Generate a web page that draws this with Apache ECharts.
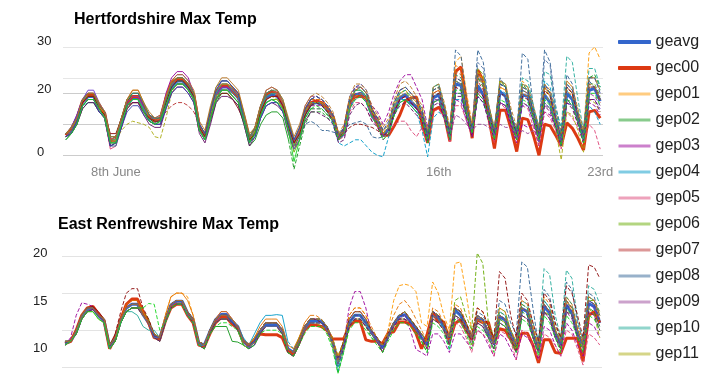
<!DOCTYPE html>
<html><head><meta charset="utf-8">
<script src="https://cdn.jsdelivr.net/npm/echarts@6/dist/echarts.min.js"></script>
<style>html,body{margin:0;padding:0;background:#fff}#c{width:714px;height:374px}</style>
</head><body><div id="c"></div>
<script>
// ---------- Hertfordshire (top) ----------
const hertGeavg=[6.5,8,11.5,17,19,19,15.5,13, 4.5,5,10.5,16.5,18.5,18.5,15,12, 11,11.5,17.5,22,24,24,22,19, 9,6,13,19.5,22,22,20.5,18.5, 12,5,7.5,14,18.5,19.5,19,16, 9.5,3.5,7,13.5,16.5,17,16.5,14.5, 12,5.5,7,16,19.5,20,18,13, 10,6.5,8.5,14.5,18.5,19.5,17,15.5, 13,5.5,18.5,19.5, 14,6.5,23,22.5, 14,8,22.5,19.5, 13,6.5,20.5,19, 12,6.5,19.5,19, 13,6.5,19.5,17, 11,4.5,20,18, 12,5.5,21,21.5, 17.5];
const hertGec00=[6.5,8.5,12,17.5,19.5,19.5,16,13.5, 4.5,5,11,17,19,19,15.5,12.5, 11,12,18.5,23.5,24.5,24.5,22.5,19.5, 9,6,13.5,20.5,22.5,22.5,21,19, 12.5,5,8,15,19.5,20.5,20,16.5, 9.5,3,7.5,14,17,17.5,17,15, 12.5,6,8,17,19,19,18.5,14.5, 10,6.5,6.5,9.5,13,17.5,18.5,18.8, 10,4,14.5,15.5, 13,4.5,27,28.5, 17,5.5,27.5,24, 12,2.2,14.5,14.5, 8.5,1.2,12,11.5, 6.5,0,10,9.5, 6.5,3,10.5,8.7, 5.5,1.7,14,14.5, 12];
const hertGep01=[6,8,12,17,20,20,16,13, 5,5,11,18,20,20,16,12, 11,12,19,23,25,25,23,20, 9,7,14,21,23,23,22,20, 13,6,9,15,20,21,20,17, 10,4,8,15,18,19,18,16, 13,6,9,18,22,22,20,15, 12,8,10,16,20,21,19,17, 14,6,20,21, 16,8,30,32, 20,10,27,24, 15,8,22,21, 13,7,24,22, 14,7,22,20, 12,5,24,22, 14,7,33,35, 31];
const hertGep02=[6,7,10,15,17,17,14,12, 3,4,11,17,20,20,16,12, 10,10,16,21,23,23,21,18, 8,5,11,17,20,20,18,16, 10,3,5,10,13,14,14,12, 5,-4.5,3,10,14,14,14,12, 11,5,8,17,21,21,19,14, 10,6,7,13,17,18,16,14, 12,4,17,18, 13,6,20,20, 13,7,25,22, 14,8,24,22, 13,7,21,20, 12,5,17,15, 10,3,18,17, 11,5,25,26, 22];
const hertGep03=[7,9,13,18,20,20,16,14, 5,6,11,17,19,19,15,12, 11,12,20,25,27,27,25,20, 10,7,14,20,22,22,21,19, 13,6,8,15,20,21,20,17, 10,4,7,13,16,16,16,14, 11,5,7,17,21,22,20,16, 14,10,14,20,24,26,26,22, 18,9,17,18, 12,5,18,17, 11,6,20,18, 12,5,17,16, 9,4,10,9, 10,3,14,13, 9,3,18,16, 10,4,17,16, 13];
const hertGep04=[7,9,12,18,19,19,15,13, 6,6,11,16,18,18,15,12, 12,12,17,22,24,24,22,19, 8,5,13,20,23,23,21,19, 12,5,8,15,19,20,19,16, 9,3,7,14,17,17,16,14, 10,4,3,4,5,5,3,1, 0,-0.5,6,14,18,18,16,14, 8,-0.5,12,14, 12,5,18,18, 13,8,19,17, 11,6,21,20, 13,8,23,22, 15,9,24,22, 14,7,21,18, 11,4,16,14, 10];
const hertGep05=[5,7,10,16,18,18,14,12, 2,3,9,15,17,17,14,11, 10,10,16,21,23,23,21,18, 8,5,12,18,21,21,19,17, 12,5,8,14,18,19,19,16, 10,5,8,15,18,18,17,15, 11,5,6,14,17,17,15,11, 10,6,7,10,11,11,8,6, 9,4,14,15, 12,4,16,16, 11,6,20,18, 10,4,17,15, 10,6,16,15, 9,3,14,12, 8,2,14,12, 9,4,10,8, 2];
const hertGep06=[6,8,11,17,19,19,15,13, 4,4,10,15,17,17,14,11, 10,11,16,21,23,23,21,18, 8,5,12,18,21,21,19,17, 11,4,7,13,17,18,18,15, 8,1,5,12,15,15,15,13, 12,6,8,17,21,21,19,14, 12,7,9,16,20,21,18,16, 14,7,21,22, 15,7,25,24, 14,8,28,26, 16,8,24,23, 13,7,23,21, 14,8,22,19, 12,6,22,20, 13,6,23,23, 19];
const hertGep07=[7,9,12,18,20,20,16,14, 5,6,11,17,19,19,16,13, 12,12,14,16,17,17,16,14, 10,7,13,19,21,21,20,18, 12,5,8,15,19,20,19,16, 10,4,8,14,17,18,17,15, 12,6,8,17,20,20,18,13, 11,6,8,14,18,19,17,15, 13,5,20,21, 14,6,24,23, 13,7,24,21, 12,6,23,22, 12,6,21,20, 13,6,22,20, 11,5,22,20, 12,6,23,22, 17];
const hertGep08=[7,8,11,17,19,19,15,13, 3,3,9,16,18,18,14,11, 10,10,16,21,23,23,21,18, 8,5,12,18,21,21,19,17, 11,4,7,13,17,18,17,14, 8,3,6,10,11,10,8,8, 7.5,7,8,10,10.5,11,10,6, 5.5,6,8,13,17,18,16,14, 12,5,19,20, 15,7,34,32, 18,8,34,30, 16,8,25,22, 13,7,33,31, 15,9,34,30, 16,8,26,23, 12,5,24,22, 18];
const hertGep09=[6,8,12,17,18,18,15,13, 4,5,11,17,19,19,15,12, 11,12,18,23,25,25,23,20, 9,6,13,19,22,22,21,19, 12,6,8,16,21,22,21,17, 10,4,8,16,19,19,18,16, 12,5,7,16,19,20,18,13, 11,7,9,15,19,20,18,16, 13,6,18,18, 12,6,13,12, 10,8,10,10, 9,7,10,9, 9,5,8,7, 8,6,16,15, 11,5,17,16, 12,6,20,19, 16];
const hertGep10=[5,7,10,16,17,17,14,12, 5,5,10,16,18,18,15,12, 11,11,17,22,24,24,22,19, 9,6,14,20,23,23,21,19, 12,5,8,15,19,20,20,17, 10,3,7,13,16,17,17,15, 12,6,8,17,21,21,19,14, 12,7,9,16,20,21,19,17, 14,7,22,23, 15,7,24,23, 14,9,26,24, 14,7,23,22, 13,8,25,24, 16,9,27,26, 15,9,32,30, 18,8,28,28, 22];
const hertGep11=[6,8,11,16,18,18,15,12, 4,5,8,10,11,10.5,10,9, 6,5.5,12,20,23,23,21,18, 9,6,13,19,21,21,20,18, 12,5,8,14,18,19,18,15, 9,3,7,14,17,17,17,14, 12,5,7,16,19,20,18,14, 12,7,9,15,19,20,18,16, 14,5,21,22, 14,7,24,23, 15,8,27,25, 13,5,24,22, 11,5,22,21, 12,4,20,17, 8,-1.5,14,13, 8,1,18,17, 14];
const hertGep12=[7,9,13,18,21,21,17,14, 5,6,12,18,20,20,16,13, 12,13,19,24,26,26,24,20, 10,7,15,21,24,24,22,20, 13,6,9,16,20,21,20,17, 11,5,8,15,18,19,18,16, 13,6,9,18,22,22,20,15, 11,6,8,14,18,19,17,15, 12,5,17,18, 13,6,20,20, 12,7,19,17, 12,6,17,16, 10,5,16,16, 11,4,17,15, 9,3,17,16, 11,4,18,18, 15];
const hertGep13=[7,8,12,17,19,19,16,13, 5,6,12,18,21,21,17,12, 11,12,19,24,25,25,23,20, 10,7,14,21,23,23,22,20, 13,6,9,16,20,21,20,17, 11,5,8,15,18,18,18,16, 13,6,9,18,21,22,20,15, 12,7,10,17,21,22,20,18, 15,7,20,21, 16,8,29,28, 17,9,25,23, 14,7,22,21, 13,7,20,19, 14,7,22,19, 11,5,21,19, 13,6,22,22, 18];
const hertGep14=[6,8,11,17,19,19,15,13, 7,7,12,16,17,17,14,12, 11,11,17,22,24,24,22,19, 9,6,12,18,20,20,18,15, 11,5,7,14,18,19,19,16, 9,4,7,13,16,17,16,14, 11,5,7,9,10,10,9.5,9, 8,6,8,14,18,19,17,15, 13,6,19,20, 14,7,22,21, 13,8,21,19, 13,7,20,19, 12,7,19,18, 13,7,21,19, 12,6,22,20, 12,6,22,22, 18];
const hertGep15=[6,7,10,15,17,17,14,12, 3,4,9,15,17,17,13,10, 9,9,15,20,22,22,20,17, 7,4,10,17,19,19,18,16, 10,3,6,12,16,17,16,14, 7,2,5,11,14,14,13,12, 10,4,5,13,16,17,15,11, 9,5,7,13,16,17,15,13, 11,4,16,17, 12,5,19,19, 12,6,19,17, 11,5,17,16, 10,5,17,16, 11,5,16,14, 9,3,17,15, 10,4,18,18, 14];
const hertGep16=[7,9,12,18,20,20,16,14, 6,6,12,18,20,20,17,13, 12,12,18,23,25,25,23,20, 10,7,15,22,24,24,22,20, 13,6,9,16,20,21,21,18, 11,5,9,15,18,19,18,16, 13,7,9,18,21,22,20,15, 12,8,10,17,21,22,20,18, 15,7,22,23, 16,8,26,25, 16,9,25,23, 14,8,23,22, 13,8,22,21, 14,8,23,20, 13,6,23,21, 14,7,25,25, 21];
const hertGep17=[6,8,11,16,18,18,15,12, 4,4,10,16,18,18,14,11, 10,11,16,21,23,23,21,18, 8,5,12,18,21,21,20,18, 11,4,6,12,16,17,17,14, 8,2,5,12,15,15,15,13, 11,5,7,15,18,19,17,12, 11,6,8,15,19,20,18,16, 13,6,19,20, 14,6,24,23, 14,8,30,28, 13,6,20,19, 12,6,21,20, 13,7,31,29, 12,5,20,18, 12,5,22,22, 18];
const hertGep18=[6,7,11,16,18,18,14,12, 3,4,9,14,16,16,13,11, 10,10,15,20,22,22,20,17, 10,7,14,21,24,24,22,20, 11,4,6,12,16,17,17,14, 10,5,9,15,18,19,18,16, 13,6,9,19,22,23,21,15, 12,8,11,17,21,22,20,18, 14,6,21,22, 15,7,25,24, 15,9,26,23, 14,7,23,22, 13,7,22,21, 14,7,23,20, 12,5,23,21, 13,6,25,25, 20];
const hertGep19=[7,9,12,18,20,20,17,14, 6,6,12,18,21,21,17,14, 12,13,19,24,26,26,24,21, 11,8,16,22,25,25,23,21, 14,7,9,16,21,22,21,18, 12,6,10,16,19,20,19,17, 14,7,10,19,23,23,21,16, 13,9,12,18,23,24,22,19, 16,8,22,23, 17,9,27,26, 17,10,26,23, 16,9,24,23, 15,9,23,22, 16,9,23,21, 14,7,24,22, 15,8,25,25, 21];
const hertGep20=[5,7,10,16,18,18,15,12, 4,4,10,16,18,18,14,11, 10,11,16,21,23,23,21,18, 8,5,12,18,21,21,19,17, 11,4,7,13,17,18,17,15, 8,-2,5,12,15,16,15,13, 11,5,7,15,18,19,17,12, 10,5,7,13,17,18,16,14, 12,4,17,18, 13,5,21,21, 13,7,20,18, 12,5,18,17, 11,5,18,17, 12,5,18,16, 10,3,18,16, 11,4,20,20, 16];

// ---------- East Renfrewshire (bottom) ----------
const renGeavg=[8.3,8.5,9.8,11.8,12.8,13,12,11.3, 7.8,8.9,11.4,13,13.5,13.5,12.1,11, 9.2,8.9,11.4,13.4,13.9,13.9,12.3,11.4, 8.3,8,9.8,11.4,12.1,12.1,11.2,10.5, 8.5,7.8,8.5,9.8,10.7,10.7,10.7,10, 7.5,7,8.5,10.3,11.2,11.3,11.2,10.3, 8.5,5.8,8,11,12,12,11,9.7, 8.7,7.6,9.2,10.8,11.9,12.1,11.2,10.3, 9,8,12.3,11.8, 10.5,8.7,12.7,12, 10.5,8.8,11.6,11.3, 9.5,8.2,11.8,11.4, 9.5,7.8,12.9,12.5, 9.5,7.3,13.2,12.3, 9.5,8,13.4,12.3, 9.5,7.8,13.6,13.2, 11];
const renGec00=[8.2,8.5,10,12,13,13.2,12.2,11.3, 7.5,9,11.5,13.5,14.2,14.2,12.5,11, 9,8.8,11.2,13,13.5,13.5,12,11, 8,7.8,9.5,11,11.7,11.7,10.8,10.3, 8.5,8,8.5,9.5,9.4,9.4,9.4,9, 7.2,6.8,8.3,10,10.7,10.7,10.5,10, 8.8,8.8,8.8,10.5,11.2,11.2,8.7,8.5, 8.5,8.2,9.6,9.8,11.1,11.1,10.8,9.6, 7.5,9.4,12.3,11.2, 11.1,8.5,10.9,11.4, 10,8.8,11.4,11, 11.1,8.2,10.2,10, 8.8,7.3,9.6,9.6, 8,5.6,8.7,8.7, 7,6.9,8.9,8.9, 8.9,5.8,12,12.5, 11];
const renGep01=[8,8.5,10,12,13,13,12,11, 8,9,11.5,13,13.5,13.5,12,11, 9.5,9,12,14.5,15,15,14.5,12, 8.5,8,10,11.5,12,12,11,10.5, 8.5,8,8.5,10,11,11,11,10, 7.5,7,8.5,10.5,11.5,11.5,11.5,10.5, 8.5,6,8.5,12,13,13,12,10, 9,8,10,14,16,16.2,16,15.2, 11,10.5,16.5,15, 12,10,19,19.2, 15,10,12,11, 9.5,8,12,11.5, 9.5,8,13,12.5, 10,7.5,13.5,12.5, 9.5,8,14,12.5, 10,8,14,13.5, 11.5];
const renGep02=[8.5,8.5,9.5,11.5,12.5,12.8,12,11.5, 7.5,8.5,11,12.5,13,13,12,11, 9,9,11,13,13.5,13.5,12,11, 8.5,8,9.5,10.5,10.5,10.5,8.5,8.4, 8,7.5,8.5,9.5,10.5,10.5,10.5,10, 7,6.5,8,10,11,11,11,10, 8,4.2,7,10.5,11.5,11.5,10.5,9, 8.5,7,9,10.5,11.5,11.5,11,10, 8.5,7,11.5,11, 10,8,12,11.5, 10,8,11,10.5, 9,7.5,11.5,11, 9,7.5,12.5,12, 9,7,12.5,12, 9,7.5,13,12, 9,7.5,13,12.5, 10.5];
const renGep03=[8,9,12,13.7,13.5,13.2,12,11, 7.5,8.5,11,12.5,13,13,12,11, 9,9,11.5,13.5,14,14,12.5,11.5, 8,8,10,11.5,12,12,11,10.5, 8.5,8,8.5,10,11,11,11,10, 7.5,7,8.5,10.5,11.5,11.5,11,10, 8.5,6,8,13,15.2,15.2,13,9.5, 8.5,7.5,9,10.5,11.5,11.5,10,7.4, 7,6.5,9.5,9.5, 8.5,7,9.5,9.5, 8.5,7.5,10,9.5, 8,6.5,9.5,9, 7.5,6,9.5,9, 8,6,10.5,10, 8,6.5,11,10, 8,6.5,11,10.5, 9];
const renGep04=[8.2,8.5,9.8,11.8,12.8,13,12,11.5, 8,9,11.5,13,13.5,13.5,12,11, 9.5,9,11.5,13.5,14,14,12.5,11.5, 8,8,10,11.5,12,12,11,10.5, 9,8,9.5,11,12,12,12.1,12, 8.5,7.5,8.5,10,11,11,11,10, 8.5,4.5,7.5,11,12,12,11,9.5, 8.5,7.5,9,11,12,12,11,10, 9,8,12,11.5, 10,7.3,12.5,12, 10.5,9,12,11.5, 10,8.5,12,11.5, 9.5,8,13,12.5, 10,7.5,14,13, 10,8.5,14,13, 10,8,14,13.5, 11.5];
const renGep05=[8,8.5,9.5,11.5,12.5,12.8,12,11, 7.5,8.5,11,12.5,13,13,12,11, 9,8.5,11,13,13.5,13.5,12,11, 8,7.5,9.5,11,11.5,11.5,11,10.5, 8.5,7.5,8.5,9.5,10.5,10.5,10.5,10, 7,6.5,8,10,11,11,11,10, 8,5.5,7.5,10.5,11.5,11.5,10.5,9.5, 8.5,7,9,10.5,11.5,12,11,10, 9,7.5,11.5,11, 10,8,11,10.5, 9,7,10,9.5, 8.5,6.5,10,9.5, 8.5,6,10,9.5, 8,6,9.5,9, 8,6.5,10,9.5, 7.5,5.3,9.5,9, 8];
const renGep06=[8.5,8.5,10,12,13,13,12,11.5, 8,9,11.5,13,13.5,13.5,12.5,11.5, 9,9,11.5,13.5,14,14,12.5,11.5, 8.5,8,10,11.5,12,12,11.5,10.5, 8.5,8,9,10,11,11,11,10, 7.5,7,9,10.5,11.5,11.5,11.5,10.5, 9,6.5,8.5,11.5,12.5,12.5,11.5,10, 9,8,9.5,11,12,12.5,11.5,10.5, 9.5,8.5,12.5,12, 11,9,14,14.5, 12,10,20.4,19, 11,9,13,12.5, 10,8.5,13.5,13, 10,8,13.5,12.5, 10,8.5,14,13, 10,8,14,14, 12.5];
const renGep07=[8.5,8.5,10,12,13,13.2,12.2,11.5, 8,9,11.5,13.5,14,14,12.5,11, 9,9,11.5,13.5,14,14,12.5,11.5, 8.5,8,10,11.5,12,12,11,10.5, 8.5,8,8.5,10,11,11,11,10, 7.5,7,8.5,10.5,11.5,11.5,11,10.5, 8.5,6,8,11,12,12,11,10, 9,8,9.5,11,12,12.5,11.5,10.5, 9,8,12.5,12, 11,9,13,12.5, 11,9,12,11.5, 10,8.5,12,11.5, 10,8,13,12.5, 10,7.5,13.5,12.5, 10,8,14,13, 10,8,14,13.5, 11.5];
const renGep08=[8,8.5,9.5,11.5,12.5,12.8,11.8,11, 7.5,8.5,11,12.5,13,13,12,11, 9,8.5,11,13,13.5,13.5,12,11, 8,7.5,9.5,11,11.5,11.5,11,10, 8,7.5,8,9.5,10.5,10.5,10.5,9.5, 7,6.5,8,10,11,11,11,10, 8,5,7.5,10.5,11.5,11.5,10.5,9.5, 8.5,7,9,10.5,11.5,12,11,10, 9,8,12,11.5, 10.5,9,13,12.5, 11,9.5,12.5,12, 10.5,9,14,13.5, 11,9.5,19.2,18.5, 13,8,15.5,14.5, 11,8.5,16.5,15.5, 11,8.5,15,14.5, 12];
const renGep09=[8.5,8.5,9.5,11.5,12.5,12.8,12,11.5, 8,9,11,13,13.5,13.5,12,11, 9.5,9,11.5,13.5,14,14,12,11, 8,8,9.5,11,12,12,11,10.5, 8.5,8,8.5,10,10.5,10.5,10.5,10, 7.5,7,8.5,10,11,11,11,10, 8.5,5.5,8,11,12,12,11,10, 9,7.5,9,10.5,11.5,12,11,10, 9,7.5,11.5,11, 10,8,12,11, 10,8,11,10.5, 9,7.5,11,10.5, 9,7,12,11.5, 9,7,12.5,11.5, 9,7.5,12.5,11.5, 9,7.5,12.5,12, 10];
const renGep10=[8.3,8.5,10,12,13,13,12,11.5, 7.5,8.5,11,12.5,12.5,12,10.5,10, 10,9,11,13,13.5,13.5,12,11, 8,8,9.5,11,11.5,11.5,11,10.5, 8.5,8,8.5,10,11,11,11,10, 7.5,7,8.5,10.5,11.5,11.5,11,10.5, 8,5,8,11,12,12,11,9.5, 8.5,7.5,9,11,12,12.5,11.5,10.5, 9.5,8.5,12.5,12, 10.5,9,13,12.5, 11,9,12,11.5, 10,8.5,12.5,12, 10,8,14,13.5, 11,8.5,18.3,17.5, 12,9,18.1,17, 11.5,8.5,16,15.5, 13.5];
const renGep11=[8,8.5,9.5,11.5,12.5,12.5,11.5,11, 7.5,8.5,11,12.5,13,13,12,11, 9,8.5,11,13,13.5,13.5,12,11, 8,7.5,9.5,11,11.5,11.5,11,10, 8,7.5,8.5,9.5,10.5,10.5,10.5,9.5, 7,6.5,8,10,11,11,10.5,10, 8,5.5,7.5,10.5,11.5,11.5,10.5,9.5, 8.5,7,9,10.5,11.5,11.5,11,10, 9,7.5,11.5,11, 10,8,12,11.5, 10,8,11.5,11, 9.5,8,11.5,11, 9,7.5,12,11.5, 9.5,7,12.5,12, 9.5,7.5,12.5,12, 9.5,7.5,13,12, 9];
const renGep12=[8.5,8.5,10,12,13,13,12,11, 8,9,11.5,13,13.5,13.5,12,11, 9,9,11.5,13.5,14,14,12.5,11.5, 8.5,8,10,11.5,12.5,12.5,11.5,10.5, 8.5,8,8.5,10,11,11,11,10, 7.5,7,8.5,10.5,11.5,11.5,11.5,10.5, 8.5,6,8,11.5,12.5,12.5,11.5,10, 8.5,7.5,9.5,11,12,12,11,10, 9,8,12.5,12, 10.5,9,13,12.5, 10.5,9,12,11.5, 10,8.5,12,11.5, 9.5,8,13,12.5, 10,7.5,13.5,12.5, 9.5,8,13.5,12.5, 10,8,13.5,13, 11];
const renGep13=[8.3,8.5,10,12,13,13,12,11.5, 8,9,11.5,13.5,14,14,12.5,11, 9.5,9,12,14.5,15,15,14,12, 8.5,8,10,11.5,12.5,12.5,11.5,10.5, 8.5,8,9,10.5,11.5,11.5,11.5,10.5, 8,7.5,9,11,12,12,11.5,10.5, 9,6.5,8.5,12,13,13,12,10.5, 9,8,10,12,13.5,14,13,11.5, 10,8.5,13,12.5, 11,9.5,13.5,13, 11,9.5,13,12.5, 10.5,9,13,12.5, 10,8.5,14,13.5, 10.5,8,14.5,13.5, 10.5,9,14.5,13.5, 10.5,8.5,14.5,14, 12];
const renGep14=[8.5,8.5,10,12,13,13.2,12.5,11.5, 8,9.5,12.5,15,15.6,15.6,13,11.5, 9.5,9,11.5,13.5,14,14,12.5,11.5, 8.5,8,10,11.5,12,12,11,10.5, 8.5,8,8.5,10,11,11,11,10, 7.5,7,8.5,10.5,11.5,11.5,11,10.5, 8.5,6,8.5,11.5,12.5,12.5,11.5,10, 9,8,9.5,11,12,12.5,11.5,10.5, 9.5,8.5,12.5,12, 11,9,13,12.5, 11,9,13,12.5, 10.5,9,17.9,17, 12,9,15,14, 11,8.5,15,14, 11,9,16,15, 12,9,18.8,18.5, 17];
const renGep15=[8,8.5,9.5,11.5,12.5,12.8,12,11, 7.5,8.5,11,12.5,13,13,12,11, 9,8.5,11,13,13.5,13.5,12,11, 8,7.5,9.5,11,11.5,11.5,11,10, 8.5,7.5,8,9.5,10.5,10.5,10.5,9.5, 7,6.5,8,10,11,11,11,10, 8.5,5.5,7.5,10.5,11.5,11.5,10.5,9.5, 8.5,7,9,10.5,11.5,11.5,11,10, 9,7.5,11.5,11, 10,8,12,11.5, 10,8.5,11,10.5, 9,7.5,11,10.5, 9,7,12,11.5, 9,7,12.5,11.5, 9,7.5,12.5,12, 9,7,12.5,12, 10];
const renGep16=[8.5,8.5,10,12,13,13,12,11.5, 8,9,11.5,13,13.5,13.5,12,11, 9.5,9,11.5,13.5,14,14,12.5,11.5, 8.5,8,10,11.5,12,12,11,10.5, 8.5,8,8.5,10,11,11,11,10, 7.5,7,8.5,10.5,11.5,11.5,11.5,10.5, 8.5,6,8,11,12,12,11,10, 9,8,9.5,11,12,12.5,11.5,10.5, 9.5,8.5,12.5,12, 10.5,9,13,12.5, 10.5,9,12,11.5, 10,8.5,12.5,12, 10,8,13.5,13, 10,7.5,14,13, 10,8.5,14.5,13.5, 10,8,14.5,14, 12];
const renGep17=[8,8.5,9.8,11.8,12.8,13,12,11, 7.5,9,11,13,13.5,13.5,12,11, 9,9,11.5,13.5,14,14,12,11.5, 8,8,10,11.5,12,12,11,10.5, 8.5,7.5,8.5,10,10.5,10.5,10.5,10, 7.5,7,8.5,10,11,11,11,10, 8.5,5.5,8,11,12,12,11,9.5, 8.5,7.5,9,11,12,12,11,10, 9,8,12,11.5, 10.5,8.5,12.5,12, 10.5,9,11.5,11, 9.5,8,12,11.5, 9.5,8,13,12.5, 9.5,7,13.5,12.5, 9.5,8,14,12.5, 9.5,8,14,13.5, 11];
const renGep18=[8.3,8.5,10,12,13,13,12,11.3, 7.8,9,11.5,13,13.5,13.5,12,11, 9.2,9,11.5,13.5,14,14,12.5,11.5, 8.5,8,10,11.5,12,12,11,10.5, 8.5,8,8.5,10,11,11,11,10, 7.5,7,8.5,10.5,11.5,11.5,11,10.5, 8.5,6,8,11,12,12,11,10, 9,7.5,9,11,12,12,11,10.5, 9,8,12.5,12, 10.5,9,13,12, 10.5,9,12,11.5, 9.5,8,12,11.5, 9.5,8,13,12.5, 9.5,7.5,13.5,12.5, 9.5,8,13.5,12.5, 9.5,8,14,13.5, 11];
const renGep19=[8.5,8.5,10,12,13,13,12,11.5, 8,9,11.5,13,13.5,13.5,12,11, 9.5,9,11.5,13.5,14,14,12.5,11.5, 8.5,8,10,11.5,12,12,11.5,10.5, 8.5,8,9,10,11,11,11,10, 7.5,7,8.5,10.5,11.5,11.5,11.5,10.5, 8.5,6,8.5,11.5,12.5,12.5,11.5,10, 9,8,9.5,11,12,12.5,11.5,10.5, 9.5,8.5,12.5,12, 11,9,13,12.5, 11,9,12,11.5, 10,8.5,12,11.5, 10,8,13,12.5, 10,7.5,13.5,12.5, 10,8.5,14,13, 10,8,14.5,14, 12];
const renGep20=[8,8.5,9.5,11.5,12.5,12.5,11.5,11, 7.5,8.5,11,12.5,13,13,13,13.6, 13.5,10,11,13,13.5,13.5,12,11, 8,7.5,9.5,10.5,11,11,10.5,10, 8,7.5,8,9.5,10,10,10,9.5, 7,6.5,8,9.5,10.5,10.5,10.5,9.5, 7.5,4.2,7,10,11,11,10,9, 8,7,8.5,10,11,11,10.5,9.5, 8.5,7,11,10.5, 9.5,7.5,11.5,11, 9.5,7.5,10.5,10, 9,7,11,10.5, 8.5,7,11.5,11, 9,6.5,12,11, 9,7,12,11, 9,7,12,11.5, 10];

// ---------- labels / ticks ----------
const seriesNames=['geavg','gec00','gep01','gep02','gep03','gep04','gep05','gep06','gep07','gep08','gep09','gep10','gep11','gep12','gep13','gep14','gep15','gep16','gep17','gep18','gep19','gep20'];
const legendShown=['geavg','gec00','gep01','gep02','gep03','gep04','gep05','gep06','gep07','gep08','gep09','gep10','gep11'];
const xTickIdx=[9,67,96];
const xTickText=['8th June','16th','23rd'];
const hertTitle='Hertfordshire Max Temp';
const renTitle='East Renfrewshire Max Temp';
const hertYLabelPos=[36.8,21.4,0.9];
const hertYLabelText=['30','20','0'];
const hertGridVals=[0,10,20,25,35];
const renYLabelPos=[20.4,13.9,7.6];
const renYLabelText=['20','15','10'];
const renGridVals=[5,10,15,20];
// index from which each member is drawn dashed (uncertain part)
const hertDashFrom=[0,0,44,40,44,44,44,44,17,40,44,44,9,44,44,44,44,44,44,44,44,44];
const renDashFrom=[0,0,16,44,0,40,44,44,44,44,44,44,44,44,44,9,44,44,44,44,44,14];

// ---------- styles ----------
const palette=['#3366cc','#dc3912','#ff9900','#109618','#990099','#0099c6','#dd4477','#66aa00','#b82e2e','#316395','#994499','#22aa99','#aaaa11','#6633cc','#e67300','#8b0707','#651067','#329262','#5574a6','#3b3eac','#b77322','#16d620'];
function pale(hex){const n=parseInt(hex.slice(1),16);const r=(n>>16)&255,g=(n>>8)&255,b=n&255;const f=c=>Math.round(255-0.5*(255-c));return 'rgb('+f(r)+','+f(g)+','+f(b)+')';}
const FONT='"Liberation Sans", Arial, sans-serif';

const hertSeries=[hertGeavg,hertGec00,hertGep01,hertGep02,hertGep03,hertGep04,hertGep05,hertGep06,hertGep07,hertGep08,hertGep09,hertGep10,hertGep11,hertGep12,hertGep13,hertGep14,hertGep15,hertGep16,hertGep17,hertGep18,hertGep19,hertGep20];
const renSeries=[renGeavg,renGec00,renGep01,renGep02,renGep03,renGep04,renGep05,renGep06,renGep07,renGep08,renGep09,renGep10,renGep11,renGep12,renGep13,renGep14,renGep15,renGep16,renGep17,renGep18,renGep19,renGep20];

function base(k,gi,data,dashed){
  const thick=k<2;
  return {type:'line',name:seriesNames[k],xAxisIndex:gi,yAxisIndex:gi,
    data:data,symbol:'none',showSymbol:false,silent:true,clip:false,connectNulls:false,
    itemStyle:{color:thick?palette[k]:pale(palette[k])},
    lineStyle:{color:palette[k],width:thick?3:1,type:dashed?[4,2]:'solid',opacity:thick?1:0.9},
    emphasis:{disabled:true}};
}
const series=[];
function addChart(arrs,dashFrom,gi){
  arrs.forEach((a,k)=>{
    if(k<2){series.push(base(k,gi,a.map((v,i)=>[i,v]),false));return;}
    const d=dashFrom[k];
    if(d>0) series.push(base(k,gi,a.map((v,i)=>i<=d?[i,v]:[i,null]),false));
    series.push(base(k,gi,a.map((v,i)=>i>=d?[i,v]:[i,null]),true));
  });
}
addChart(hertSeries,hertDashFrom,0);
addChart(renSeries,renDashFrom,1);

function pick(pos,txt){return v=>{let b=0,d=1e9;pos.forEach((p,i)=>{const e=Math.abs(p-v);if(e<d){d=e;b=i;}});return txt[b];};}

function yAx(gi,min,max,gridVals,labPos,labTxt,margin,colors){
  return {type:'value',gridIndex:gi,min:min,max:max,
    axisLine:{show:false},
    axisTick:{show:false,customValues:gridVals},
    splitLine:{show:true,lineStyle:{color:colors,width:1}},
    axisLabel:{customValues:labPos,formatter:pick(labPos,labTxt),align:'left',margin:margin,color:'#222',fontSize:13,fontFamily:FONT}};
}
function xAx(gi,min,max,showLabels){
  return {type:'value',gridIndex:gi,min:min,max:max,
    axisLine:{show:false},axisTick:{show:false},splitLine:{show:false},
    axisLabel:{show:showLabels,customValues:xTickIdx,formatter:pick(xTickIdx,xTickText),color:'#888',fontSize:13,margin:4,fontFamily:FONT}};
}

const legendData=legendShown.map((n,k)=>k<2?{name:n,itemStyle:{borderWidth:1,borderColor:palette[k]}}:{name:n});

const option={
  animation:false,
  backgroundColor:'#fff',
  textStyle:{fontFamily:FONT},
  title:[
    {text:hertTitle,left:74,top:12,padding:0,textStyle:{fontSize:16,fontWeight:'bold',color:'#000',fontFamily:FONT}},
    {text:renTitle,left:58,top:217,padding:0,textStyle:{fontSize:16,fontWeight:'bold',color:'#000',fontFamily:FONT}}
  ],
  legend:{orient:'vertical',left:618,top:34,height:700,padding:0,itemWidth:32,itemHeight:3,itemGap:10,icon:'rect',
    data:legendData,selectedMode:false,textStyle:{fontSize:16,color:'#222',lineHeight:16,fontFamily:FONT}},
  grid:[
    {left:63,width:540,top:37.5,height:124,outerBoundsMode:'none'},
    {left:62,width:540,top:241.16,height:148.4,outerBoundsMode:'none'}
  ],
  xAxis:[xAx(0,-0.5,96.5,true),xAx(1,-0.55,96.4,false)],
  yAxis:[
    yAx(0,-2,38,hertGridVals,hertYLabelPos,hertYLabelText,26,['#cccccc','#cccccc','#cccccc','#e6e6e6','#e6e6e6']),
    yAx(1,2,22,renGridVals,renYLabelPos,renYLabelText,29,['#e3e3e3','#e3e3e3','#e3e3e3','#e3e3e3'])
  ],
  series:series
};
const chart=echarts.init(document.getElementById('c'),null,{renderer:'canvas'});
chart.setOption(option);
</script></body></html>
